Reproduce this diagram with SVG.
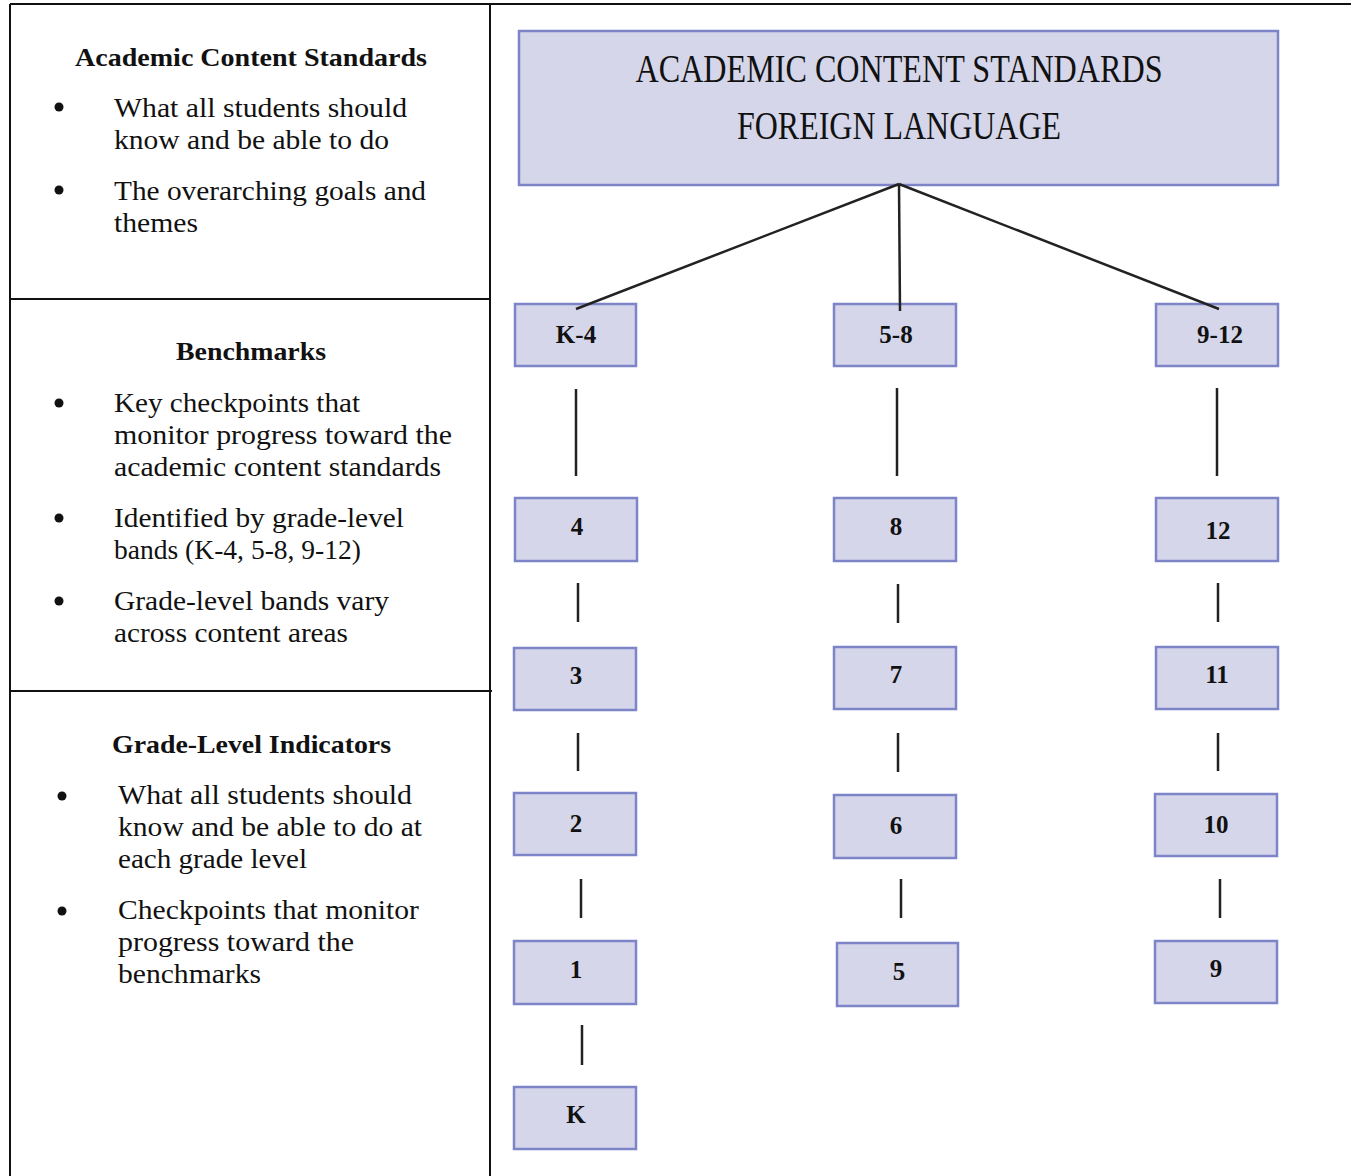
<svg xmlns="http://www.w3.org/2000/svg" width="1351" height="1176" viewBox="0 0 1351 1176">
<style>
.body{font-family:"Liberation Serif","DejaVu Serif",serif;font-size:27px;fill:#111}
.head{font-family:"Liberation Serif","DejaVu Serif",serif;font-size:26px;font-weight:bold;fill:#111}
.tbl{stroke:#111;stroke-width:2;fill:none}
.box{fill:#d5d6ea;stroke:#7d84c8;stroke-width:2.5}
.lbl{font-family:"Liberation Serif","DejaVu Serif",serif;font-size:25px;font-weight:bold;fill:#111;text-anchor:middle}
.title{font-family:"Liberation Serif","DejaVu Serif",serif;font-size:40px;fill:#111;text-anchor:middle}
.conn{stroke:#222;stroke-width:2.5;fill:none}
</style>
<rect width="1351" height="1176" fill="#fff"/>
<g id="table">
<line class="tbl" x1="10" y1="4" x2="1351" y2="4"/>
<line class="tbl" x1="10" y1="4" x2="10" y2="1176"/>
<line class="tbl" x1="490" y1="4" x2="490" y2="1176"/>
<line class="tbl" x1="10" y1="299" x2="490" y2="299"/>
<line class="tbl" x1="10" y1="691" x2="492" y2="691"/>
</g>
<g id="section-standards">
<text class="head" x="75" y="66" textLength="352" lengthAdjust="spacingAndGlyphs">Academic Content Standards</text>
<circle cx="59" cy="107" r="4.5" fill="#111"/>
<text class="body" x="114" y="117" textLength="293" lengthAdjust="spacingAndGlyphs">What all students should</text>
<text class="body" x="114" y="149" textLength="275" lengthAdjust="spacingAndGlyphs">know and be able to do</text>
<circle cx="59" cy="190" r="4.5" fill="#111"/>
<text class="body" x="114" y="200" textLength="312" lengthAdjust="spacingAndGlyphs">The overarching goals and</text>
<text class="body" x="114" y="232" textLength="84" lengthAdjust="spacingAndGlyphs">themes</text>
</g>
<g id="section-benchmarks">
<text class="head" x="176" y="360" textLength="150" lengthAdjust="spacingAndGlyphs">Benchmarks</text>
<circle cx="59" cy="403" r="4.5" fill="#111"/>
<text class="body" x="114" y="412" textLength="246" lengthAdjust="spacingAndGlyphs">Key checkpoints that</text>
<text class="body" x="114" y="444" textLength="338" lengthAdjust="spacingAndGlyphs">monitor progress toward the</text>
<text class="body" x="114" y="476" textLength="327" lengthAdjust="spacingAndGlyphs">academic content standards</text>
<circle cx="59" cy="518" r="4.5" fill="#111"/>
<text class="body" x="114" y="527" textLength="290" lengthAdjust="spacingAndGlyphs">Identified by grade-level</text>
<text class="body" x="114" y="559" textLength="247" lengthAdjust="spacingAndGlyphs">bands (K-4, 5-8, 9-12)</text>
<circle cx="59" cy="601" r="4.5" fill="#111"/>
<text class="body" x="114" y="610" textLength="275" lengthAdjust="spacingAndGlyphs">Grade-level bands vary</text>
<text class="body" x="114" y="642" textLength="234" lengthAdjust="spacingAndGlyphs">across content areas</text>
</g>
<g id="section-indicators">
<text class="head" x="112" y="753" textLength="279" lengthAdjust="spacingAndGlyphs">Grade-Level Indicators</text>
<circle cx="62" cy="796" r="4.5" fill="#111"/>
<text class="body" x="118" y="804" textLength="294" lengthAdjust="spacingAndGlyphs">What all students should</text>
<text class="body" x="118" y="836" textLength="304" lengthAdjust="spacingAndGlyphs">know and be able to do at</text>
<text class="body" x="118" y="868" textLength="189" lengthAdjust="spacingAndGlyphs">each grade level</text>
<circle cx="62" cy="911" r="4.5" fill="#111"/>
<text class="body" x="118" y="919" textLength="301" lengthAdjust="spacingAndGlyphs">Checkpoints that monitor</text>
<text class="body" x="118" y="951" textLength="236" lengthAdjust="spacingAndGlyphs">progress toward the</text>
<text class="body" x="118" y="983" textLength="143" lengthAdjust="spacingAndGlyphs">benchmarks</text>
</g>
<g id="node-root">
<rect class="box" x="519" y="31" width="759" height="154"/>
<text class="title" x="899" y="82" textLength="527" lengthAdjust="spacingAndGlyphs">ACADEMIC CONTENT STANDARDS</text>
<text class="title" x="899" y="139" textLength="324" lengthAdjust="spacingAndGlyphs">FOREIGN LANGUAGE</text>
</g>
<g id="node-k4"><rect class="box" x="515" y="304" width="121" height="62"/><text class="lbl" x="576" y="343">K-4</text></g>
<g id="node-58"><rect class="box" x="834" y="304" width="122" height="62"/><text class="lbl" x="896" y="343">5-8</text></g>
<g id="node-912"><rect class="box" x="1156" y="304" width="122" height="62"/><text class="lbl" x="1220" y="343">9-12</text></g>
<g id="node-4"><rect class="box" x="515" y="498" width="122" height="63"/><text class="lbl" x="577" y="535">4</text></g>
<g id="node-8"><rect class="box" x="834" y="498" width="122" height="63"/><text class="lbl" x="896" y="535">8</text></g>
<g id="node-12"><rect class="box" x="1156" y="498" width="122" height="63"/><text class="lbl" x="1218" y="539">12</text></g>
<g id="node-3"><rect class="box" x="514" y="648" width="122" height="62"/><text class="lbl" x="576" y="684">3</text></g>
<g id="node-7"><rect class="box" x="834" y="647" width="122" height="62"/><text class="lbl" x="896" y="683">7</text></g>
<g id="node-11"><rect class="box" x="1156" y="647" width="122" height="62"/><text class="lbl" x="1217" y="683">11</text></g>
<g id="node-2"><rect class="box" x="514" y="793" width="122" height="62"/><text class="lbl" x="576" y="832">2</text></g>
<g id="node-6"><rect class="box" x="834" y="795" width="122" height="63"/><text class="lbl" x="896" y="834">6</text></g>
<g id="node-10"><rect class="box" x="1155" y="794" width="122" height="62"/><text class="lbl" x="1216" y="833">10</text></g>
<g id="node-1"><rect class="box" x="514" y="941" width="122" height="63"/><text class="lbl" x="576" y="978">1</text></g>
<g id="node-5"><rect class="box" x="837" y="943" width="121" height="63"/><text class="lbl" x="899" y="980">5</text></g>
<g id="node-9"><rect class="box" x="1155" y="941" width="122" height="62"/><text class="lbl" x="1216" y="977">9</text></g>
<g id="node-k"><rect class="box" x="514" y="1087" width="122" height="62"/><text class="lbl" x="576" y="1123">K</text></g>
<g id="connectors">
<line class="conn" x1="899" y1="184" x2="576" y2="309"/>
<line class="conn" x1="899" y1="184" x2="900" y2="311"/>
<line class="conn" x1="899" y1="184" x2="1219" y2="309"/>
<line class="conn" x1="576" y1="389" x2="576" y2="476"/>
<line class="conn" x1="897" y1="388" x2="897" y2="476"/>
<line class="conn" x1="1217" y1="388" x2="1217" y2="476"/>
<line class="conn" x1="578" y1="583" x2="578" y2="622"/>
<line class="conn" x1="898" y1="584" x2="898" y2="623"/>
<line class="conn" x1="1218" y1="583" x2="1218" y2="622"/>
<line class="conn" x1="578" y1="733" x2="578" y2="771"/>
<line class="conn" x1="898" y1="733" x2="898" y2="772"/>
<line class="conn" x1="1218" y1="733" x2="1218" y2="771"/>
<line class="conn" x1="581" y1="879" x2="581" y2="918"/>
<line class="conn" x1="901" y1="879" x2="901" y2="918"/>
<line class="conn" x1="1220" y1="879" x2="1220" y2="918"/>
<line class="conn" x1="582" y1="1025" x2="582" y2="1065"/>
</g>
</svg>
